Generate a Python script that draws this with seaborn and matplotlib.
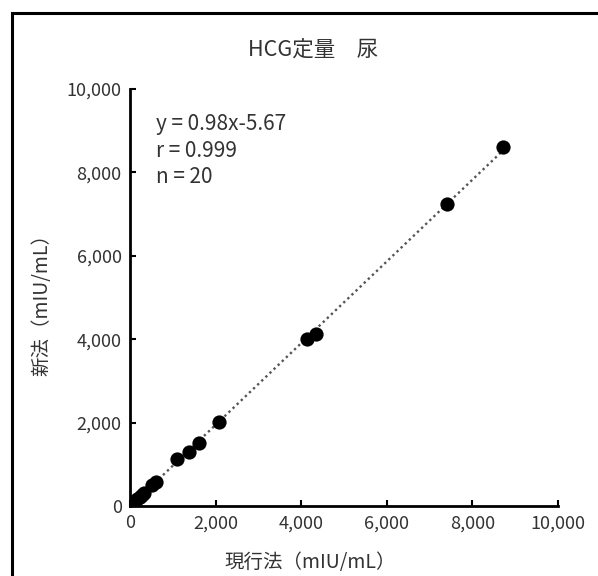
import numpy as np
import pandas as pd
import matplotlib
matplotlib.use("Agg")
import matplotlib.pyplot as plt
from matplotlib.patches import Rectangle
import seaborn as sns

# values
current = [8715, 7406, 4346, 4136, 2079, 1612, 1378, 1098, 600, 520,
           330, 280, 230, 170, 120, 80, 50, 30, 15, 5]
new = [8609, 7242, 4125, 4005, 2014, 1511, 1295, 1127, 580, 505,
       320, 270, 222, 160, 112, 72, 44, 25, 10, 2]
ticks = [0, 2000, 4000, 6000, 8000, 10000]
tick_labels = ["0", "2,000", "4,000", "6,000", "8,000", "10,000"]
title = "HCG定量\u3000尿"
stats_lines = ["y = 0.98x-5.67", "r = 0.999", "n = 20"]

def makeGraph():
    sns.set_style("ticks")
    plt.rcParams['font.family'] = ['Noto Sans CJK JP', 'DejaVu Sans']

    df = pd.DataFrame({'current': current, 'new': new})

    fig = plt.figure(figsize=(5.98, 5.76), dpi=100)
    ax = fig.add_axes([0.2174, 0.1215, 0.9331 - 0.2174, 0.8455 - 0.1215])

    sns.regplot(data=df, x='current', y='new', ax=ax, ci=None, truncate=True,
                scatter_kws={'s': 105, 'color': 'black', 'edgecolor': 'black',
                             'linewidths': 0, 'alpha': 1, 'zorder': 3},
                line_kws={'color': '#555555', 'linestyle': (0, (1, 1.4)),
                          'linewidth': 1.7, 'zorder': 2})

    ax.set_xlim(0, 10000)
    ax.set_ylim(0, 10000)
    ax.set_xticks(ticks)
    ax.set_yticks(ticks)
    ax.set_xticklabels(tick_labels, fontsize=13, color='#333333')
    ax.set_yticklabels(tick_labels, fontsize=13, color='#333333')
    ax.tick_params(direction='in', length=4, width=1.5, color='black', pad=6)
    sns.despine(ax=ax)
    for s in ['left', 'bottom']:
        ax.spines[s].set_linewidth(2)
        ax.spines[s].set_color('black')

    ax.set_xlabel("現行法（mIU/mL）", fontsize=14, color='#333333')
    ax.xaxis.set_label_coords(0.42, -0.11)
    ax.set_ylabel("新法（mIU/mL）", fontsize=14, color='#333333')
    ax.yaxis.set_label_coords(-0.18, 0.494)

    fig.text(313 / 598, 1 - 50 / 576, title, fontsize=15.5, color='#333333',
             ha='center', va='center')

    for i, line in enumerate(stats_lines):
        ax.text(0.06, 0.915 - i * 0.063, line, transform=ax.transAxes,
                fontsize=15, color='#333333', va='center', ha='left')

    # outer chart frame (cropped at right and bottom in the reference)
    fig.patches.append(Rectangle((12 / 598, -0.1), 1.2, 1 - 13 / 576 + 0.1,
                                 transform=fig.transFigure, fill=False,
                                 edgecolor='black', linewidth=2.2))

    fig.savefig("out.png", dpi=100)

def main():
    makeGraph()

if __name__ == "__main__":
    main()
